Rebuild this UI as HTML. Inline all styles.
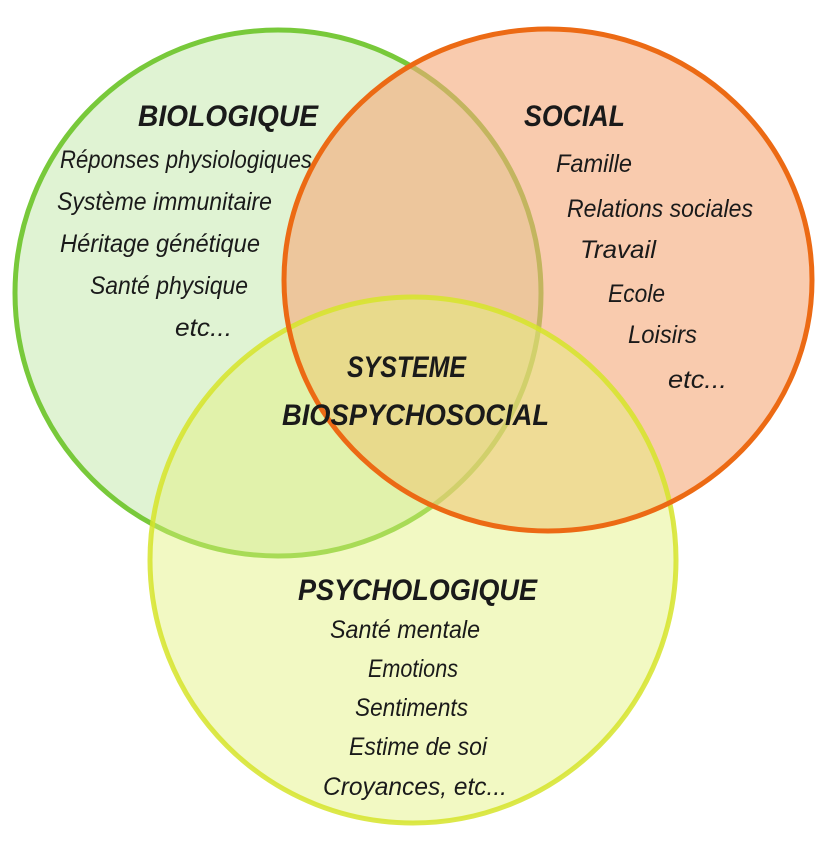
<!DOCTYPE html>
<html><head><meta charset="utf-8"><style>
html,body{margin:0;padding:0;background:#fff;}
svg text{font-family:"Liberation Sans",sans-serif;font-style:italic;fill:#1a1a1a;}
</style></head><body>
<svg width="825" height="845" viewBox="0 0 825 845" xmlns="http://www.w3.org/2000/svg">
<circle cx="278" cy="293" r="263" fill="#d8f0c8" fill-opacity="0.8" stroke="#78c93a" stroke-width="5"/>
<ellipse cx="548" cy="280" rx="264" ry="251" fill="#f5a878" fill-opacity="0.6"/>
<circle cx="413" cy="560" r="263" fill="#e2f27a" fill-opacity="0.45"/>
<circle cx="413" cy="560" r="263" fill="none" stroke="#d6e42a" stroke-width="5" stroke-opacity="0.85"/>
<ellipse cx="548" cy="280" rx="264" ry="251" fill="none" stroke="#ec6a14" stroke-width="5"/>
<g font-size="25">
<text x="138" y="126" font-size="30" font-weight="bold" textLength="180" lengthAdjust="spacingAndGlyphs">BIOLOGIQUE</text>
<text x="60" y="168" textLength="252" lengthAdjust="spacingAndGlyphs">Réponses physiologiques</text>
<text x="57" y="210" textLength="215" lengthAdjust="spacingAndGlyphs">Système immunitaire</text>
<text x="60" y="252" textLength="200" lengthAdjust="spacingAndGlyphs">Héritage génétique</text>
<text x="90" y="294" textLength="158" lengthAdjust="spacingAndGlyphs">Santé physique</text>
<text x="175" y="336" textLength="57" lengthAdjust="spacingAndGlyphs">etc...</text>
<text x="524" y="126" font-size="30" font-weight="bold" textLength="101" lengthAdjust="spacingAndGlyphs">SOCIAL</text>
<text x="556" y="172" textLength="76" lengthAdjust="spacingAndGlyphs">Famille</text>
<text x="567" y="217" textLength="186" lengthAdjust="spacingAndGlyphs">Relations sociales</text>
<text x="580" y="258" textLength="76" lengthAdjust="spacingAndGlyphs">Travail</text>
<text x="608" y="302" textLength="57" lengthAdjust="spacingAndGlyphs">Ecole</text>
<text x="628" y="343" textLength="69" lengthAdjust="spacingAndGlyphs">Loisirs</text>
<text x="668" y="388" textLength="59" lengthAdjust="spacingAndGlyphs">etc...</text>
<text x="347" y="377" font-size="30" font-weight="bold" textLength="119" lengthAdjust="spacingAndGlyphs">SYSTEME</text>
<text x="282" y="425" font-size="30" font-weight="bold" textLength="267" lengthAdjust="spacingAndGlyphs">BIOSPYCHOSOCIAL</text>
<text x="298" y="600" font-size="30" font-weight="bold" textLength="239" lengthAdjust="spacingAndGlyphs">PSYCHOLOGIQUE</text>
<text x="330" y="638" textLength="150" lengthAdjust="spacingAndGlyphs">Santé mentale</text>
<text x="368" y="677" textLength="90" lengthAdjust="spacingAndGlyphs">Emotions</text>
<text x="355" y="716" textLength="113" lengthAdjust="spacingAndGlyphs">Sentiments</text>
<text x="349" y="755" textLength="138" lengthAdjust="spacingAndGlyphs">Estime de soi</text>
<text x="323" y="795" textLength="184" lengthAdjust="spacingAndGlyphs">Croyances, etc...</text>
</g>
</svg>
</body></html>
